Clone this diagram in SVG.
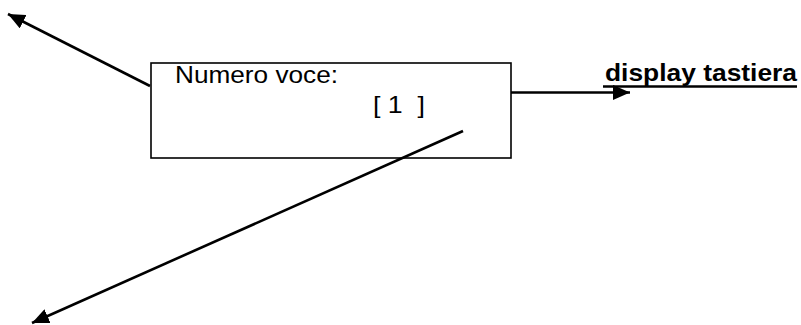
<svg xmlns="http://www.w3.org/2000/svg" width="801" height="325" viewBox="0 0 801 325">
<style>
.t{font-family:"Liberation Sans",Arial,sans-serif;font-size:24px;fill:#000}
.b{font-weight:bold}
.c{stroke:#000;stroke-width:2.6;fill:none}
</style>
<defs>
<marker id="ah" markerUnits="userSpaceOnUse" markerWidth="18" markerHeight="15" refX="17" refY="7.5" orient="auto" viewBox="0 0 18 15">
<path d="M0,0 L17,7.5 L0,15 z" fill="#000"/>
</marker>
</defs>
<rect width="801" height="325" fill="#fff"/>
<g id="box">
<rect x="151" y="63" width="360" height="95" fill="none" stroke="#000" stroke-width="1.6"/>
<text class="t" x="175" y="83" textLength="163" lengthAdjust="spacingAndGlyphs">Numero voce:</text>
<text class="t" x="373" y="113" xml:space="preserve" textLength="52" lengthAdjust="spacingAndGlyphs">[ 1  ]</text>
</g>
<g id="label">
<text class="t b" x="605" y="81" textLength="192" lengthAdjust="spacingAndGlyphs">display tastiera</text>
<line x1="603" y1="86.5" x2="797" y2="86.5" stroke="#000" stroke-width="2.5"/>
</g>
<g id="connectors">
<line class="c" x1="150" y1="86" x2="8" y2="14" marker-end="url(#ah)"/>
<line class="c" x1="511" y1="92.5" x2="630" y2="92.5" marker-end="url(#ah)"/>
<line class="c" x1="463" y1="131" x2="32" y2="323" marker-end="url(#ah)"/>
</g>
</svg>
